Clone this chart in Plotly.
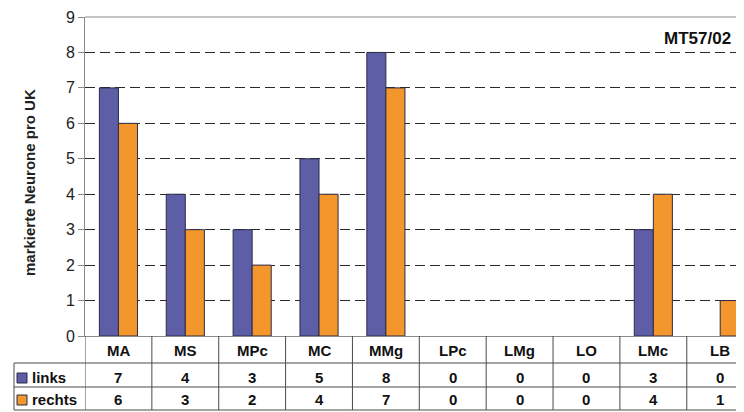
import plotly.graph_objects as go

#===========================================================================================================#

categories = ["MA", "MS", "MPc", "MC", "MMg", "LPc", "LMg", "LO", "LMc", "LB"]
links = [7, 4, 3, 5, 8, 0, 0, 0, 3, 0]
rechts = [6, 3, 2, 4, 7, 0, 0, 0, 4, 1]
seriesNames = ["links", "rechts"]
yTicks = [0, 1, 2, 3, 4, 5, 6, 7, 8, 9]

colors = ["#5D5EA6", "#F3962C"]

#===========================================================================================================#

# the page puts the figure 8px in from the top-left corner, so the figure is 8px smaller
OFF = 8
W, H = 744 - OFF, 412 - OFF
L, R, T, B = 85 - OFF, 0, 17 - OFF, 76
plotH = H - T - B
plotW = W - L - R

def py(pix: float) -> float:
    # screen pixel row -> paper y
    return (H - B - (pix - OFF)) / plotH

def px(pix: float) -> float:
    # screen pixel column -> paper x
    return (pix - OFF - L) / plotW

#===========================================================================================================#

fig = go.Figure()
for name, vals, col in zip(seriesNames, [links, rechts], colors):
    fig.add_trace(go.Bar(x=categories, y=vals, name=name, marker_color=col,
                         marker_line=dict(color="#2B2B4A", width=[1 if v else 0 for v in vals])))

fig.update_layout(
    width=W, height=H, margin=dict(l=L, r=R, t=T, b=B),
    plot_bgcolor="white", paper_bgcolor="white",
    barmode="group", bargap=0.43, bargroupgap=0, showlegend=False,
    font=dict(family="Liberation Sans, Arial", color="#1a1a1a"),
)
fig.update_xaxes(range=[-0.5, 9.356], showticklabels=False, showgrid=False,
                 showline=True, linecolor="#8a8a8a", linewidth=1, ticks="", zeroline=False)
fig.update_yaxes(range=[0, 9], tickvals=yTicks, ticks="outside", ticklen=6, tickcolor="#8a8a8a",
                 showline=True, linecolor="#8a8a8a", linewidth=1,
                 showgrid=True, gridcolor="#2a2a2a", griddash="10px,5px", gridwidth=1,
                 zeroline=False, tickfont=dict(size=16, color="#222"))

# top frame line
fig.add_shape(type="line", xref="paper", yref="paper", x0=0, x1=1, y0=1, y1=1,
              line=dict(color="#8a8a8a", width=1))

fig.add_annotation(text="<b>MT57/02</b>", xref="paper", yref="paper", x=px(733), y=py(38),
                   xanchor="right", yanchor="middle", showarrow=False, font=dict(size=17, color="#111"))

fig.add_annotation(text="<b>markierte Neurone pro UK</b>", xref="paper", yref="paper", x=px(29), y=py(183),
                   xanchor="center", yanchor="middle", textangle=-90, showarrow=False,
                   font=dict(size=15, color="#222"))

#===========================================================================================================#
# data table under the plot

lineStyle = dict(color="#4a4a4a", width=1)
rowLines = [363, 387, 410]
for r in rowLines:
    fig.add_shape(type="line", xref="paper", yref="paper", x0=px(14), x1=1, y0=py(r), y1=py(r), line=lineStyle)
fig.add_shape(type="line", xref="paper", yref="paper", x0=px(14), x1=px(14), y0=py(363), y1=py(410), line=lineStyle)
for i in range(len(categories)):
    fig.add_shape(type="line", xref="x", yref="paper", x0=i - 0.5, x1=i - 0.5, y0=0, y1=py(410), line=lineStyle)

rowY = [py(377), py(399)]
for i, cat in enumerate(categories):
    fig.add_annotation(text=f"<b>{cat}</b>", xref="x", yref="paper", x=cat, y=py(350),
                       xanchor="center", yanchor="middle", showarrow=False, font=dict(size=15, color="#111"))
    for vals, yy in zip([links, rechts], rowY):
        fig.add_annotation(text=f"<b>{vals[i]}</b>", xref="x", yref="paper", x=cat, y=yy,
                           xanchor="center", yanchor="middle", showarrow=False, font=dict(size=15, color="#111"))

for name, col, yy, top in zip(seriesNames, colors, rowY, [373, 395]):
    fig.add_shape(type="rect", xref="paper", yref="paper", x0=px(17), x1=px(27), y0=py(top), y1=py(top + 10),
                  fillcolor=col, line=dict(color="#2B2B4A", width=1))
    fig.add_annotation(text=f"<b>{name}</b>", xref="paper", yref="paper", x=px(30), y=yy,
                       xanchor="left", yanchor="middle", showarrow=False, font=dict(size=15, color="#111"))

fig.write_html("out.html")
